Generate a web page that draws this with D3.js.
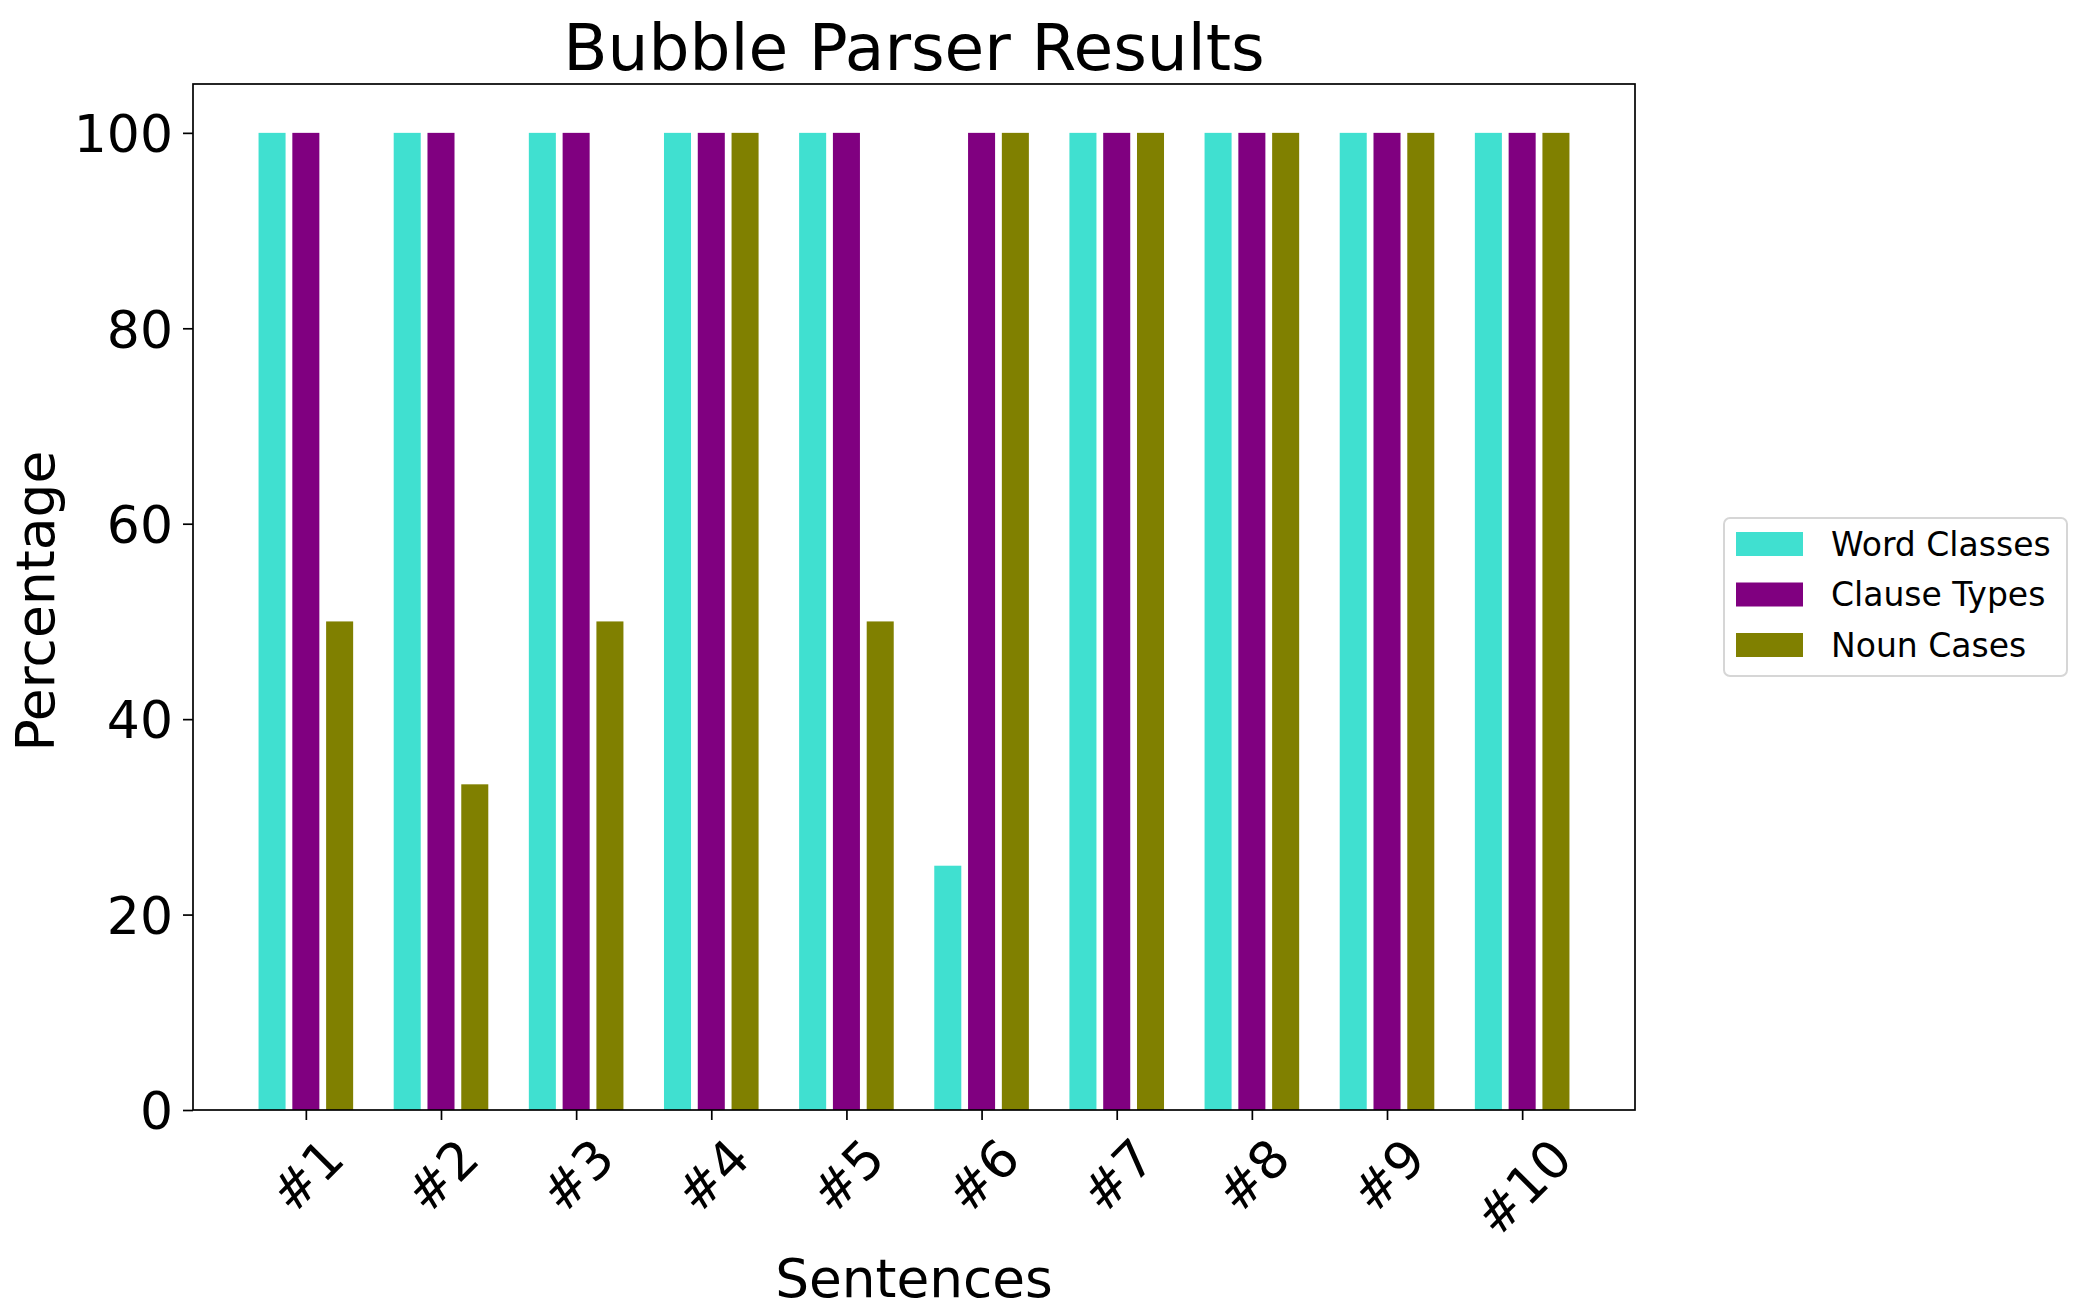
<!DOCTYPE html>
<html>
<head>
<meta charset="utf-8">
<script src="https://cdn.jsdelivr.net/npm/d3@7"></script>
<style>
  body { margin: 0; background: #fff; }
  text { font-family: "DejaVu Sans", sans-serif; fill: #000; }
</style>
</head>
<body>
<div class="chart"></div>
<script>
const sentences = ['#1', '#2', '#3', '#4', '#5', '#6', '#7', '#8', '#9', '#10']
const wordClasses = [100, 100, 100, 100, 100, 25, 100, 100, 100, 100]
const clauseTypes = [100, 100, 100, 100, 100, 100, 100, 100, 100, 100]
const nounCases = [50, 33.33, 50, 100, 50, 100, 100, 100, 100, 100]
const seriesNames = ['Word Classes', 'Clause Types', 'Noun Cases']
const seriesColors = ['#40e0d0', '#800080', '#808000']
const yTicks = [0, 20, 40, 60, 80, 100]

const series = [wordClasses, clauseTypes, nounCases]

const W = 2084
const H = 1313
const margin = { top: 84, left: 193, right: 2084 - 1635, bottom: 1313 - 1110 }
const width = W - margin.left - margin.right
const height = H - margin.top - margin.bottom

const barW = 0.2
const step = 0.25

// positions 1..10, bars at -0.25, 0, +0.25, with 5% padding like matplotlib
const lo = 1 - step - barW / 2
const hi = 10 + step + barW / 2
const pad = (hi - lo) * 0.05
const xScale = d3.scaleLinear()
  .domain([lo - pad, hi + pad])
  .range([0, width])
const yScale = d3.scaleLinear()
  .domain([0, 105])
  .range([height, 0])

const svg = d3.select('.chart')
  .append('svg')
  .attr('width', W)
  .attr('height', H)

const g = svg.append('g')
  .attr('transform', `translate(${margin.left},${margin.top})`)

// bars
series.forEach((vals, s) => {
  g.selectAll(`.bar-${s}`)
    .data(vals)
    .enter()
    .append('rect')
    .attr('class', `bar-${s}`)
    .attr('x', (d, i) => xScale(i + 1 + (s - 1) * step - barW / 2))
    .attr('width', xScale(barW) - xScale(0))
    .attr('y', d => yScale(d))
    .attr('height', d => height - yScale(d))
    .attr('fill', seriesColors[s])
})

// y axis
const yAxis = d3.axisLeft(yScale)
  .tickValues(yTicks)
  .tickSize(10)
  .tickPadding(10)
const yG = g.append('g').call(yAxis)
yG.select('.domain').remove()
yG.selectAll('.tick line').attr('stroke', '#000').attr('stroke-width', 1.7)
yG.selectAll('.tick text')
  .style('font-size', '52px')
  .attr('font-family', 'DejaVu Sans')
  .attr('dy', '0.36em')

// x axis
const xAxis = d3.axisBottom(xScale)
  .tickValues(d3.range(1, 11))
  .tickFormat((d, i) => sentences[i])
  .tickSize(10)
  .tickPadding(0)
const xG = g.append('g')
  .attr('transform', `translate(0,${height})`)
  .call(xAxis)
xG.select('.domain').remove()
xG.selectAll('.tick line').attr('stroke', '#000').attr('stroke-width', 1.7)
xG.selectAll('.tick text')
  .style('font-size', '52px')
  .attr('font-family', 'DejaVu Sans')
  .attr('text-anchor', 'middle')
  .attr('y', 0)
  .attr('dy', '0.365em')
  .each(function () {
    const w = this.getComputedTextLength()
    const cy = 38 + w * 0.354
    d3.select(this).attr('transform', `translate(0,${cy}) rotate(-45)`)
  })

// frame
g.append('rect')
  .attr('width', width)
  .attr('height', height)
  .attr('fill', 'none')
  .attr('stroke', '#000')
  .attr('stroke-width', 1.7)

// title and labels
svg.append('text')
  .attr('x', margin.left + width / 2)
  .attr('y', 70)
  .attr('text-anchor', 'middle')
  .style('font-size', '64.6px')
  .text('Bubble Parser Results')

svg.append('text')
  .attr('x', margin.left + width / 2)
  .attr('y', 1297)
  .attr('text-anchor', 'middle')
  .style('font-size', '53.3px')
  .text('Sentences')

svg.append('text')
  .attr('transform', `translate(54,${margin.top + height / 2 + 4}) rotate(-90)`)
  .attr('text-anchor', 'middle')
  .style('font-size', '53.5px')
  .text('Percentage')

// legend
const legend = svg.append('g')
  .attr('transform', 'translate(1724,518)')
legend.append('rect')
  .attr('width', 343)
  .attr('height', 158)
  .attr('rx', 6)
  .attr('fill', '#fff')
  .attr('stroke', '#d6d6d6')
  .attr('stroke-width', 2)

const items = legend.selectAll('.item')
  .data(seriesNames)
  .enter()
  .append('g')
  .attr('class', 'item')
  .attr('transform', (d, i) => `translate(12,${26 + i * 50.5})`)
items.append('rect')
  .attr('y', -12)
  .attr('width', 67)
  .attr('height', 24)
  .attr('fill', (d, i) => seriesColors[i])
items.append('text')
  .attr('x', 95)
  .attr('dy', '0.36em')
  .style('font-size', '33px')
  .text(d => d)
</script>
</body>
</html>
